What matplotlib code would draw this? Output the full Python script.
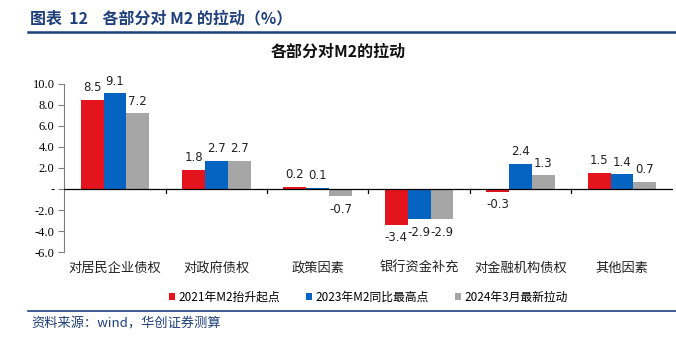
import matplotlib.pyplot as plt
import numpy as np

plt.rcParams['font.family'] = ['Noto Sans CJK SC', 'DejaVu Sans']

categories = ['对居民企业债权', '对政府债权', '政策因素', '银行资金补充', '对金融机构债权', '其他因素']
series_names = ['2021年M2抬升起点', '2023年M2同比最高点', '2024年3月最新拉动']
v2021 = [8.5, 1.8, 0.2, -3.4, -0.3, 1.5]
v2023 = [9.1, 2.7, 0.1, -2.9, 2.4, 1.4]
v2024 = [7.2, 2.7, -0.7, -2.9, 1.3, 0.7]
yticks = [10, 8, 6, 4, 2, 0, -2, -4, -6]
ytick_labels = ['10.0', '8.0', '6.0', '4.0', '2.0', '-', '-2.0', '-4.0', '-6.0']

colors = ['#E3141B', '#0563C1', '#A6A6A6']

fig = plt.figure(figsize=(6.76, 3.37), dpi=100)
ax = fig.add_axes([0.095, 0.252, 0.9, 0.499])

x = np.arange(len(categories))
w = 0.225
for i, (vals, c, name) in enumerate(zip([v2021, v2023, v2024], colors, series_names)):
    xs = x + (i - 1) * w
    ax.bar(xs, vals, width=w, color=c, label=name, zorder=2)
    for xi, v in zip(xs, vals):
        if v >= 0:
            ax.text(xi, v + 0.55, f'{v:.1f}', ha='center', va='bottom', fontsize=8.5,
                    family='DejaVu Sans', color='#222222')
        else:
            ax.text(xi, v - 0.6, f'{v:.1f}', ha='center', va='top', fontsize=8.5,
                    family='DejaVu Sans', color='#222222')

ax.set_xlim(-0.5, len(categories) - 0.5)
ax.set_ylim(-6, 10)
ax.set_yticks(yticks)
ax.set_yticklabels(ytick_labels, family='Liberation Serif', fontsize=9)

for s in ['top', 'right', 'bottom']:
    ax.spines[s].set_visible(False)
ax.spines['left'].set_color('#808080')
ax.axhline(0, color='black', lw=0.9, zorder=3)
ax.tick_params(axis='y', length=4, color='#808080', pad=3)

# category boundary ticks on the zero line
ax.set_xticks(x)
ax.set_xticklabels([])
ax.tick_params(axis='x', length=0)
for b in np.arange(0.5, len(categories) - 0.5, 1):
    ax.plot([b, b], [0, -0.4], color='black', lw=0.9, zorder=3, clip_on=False)
for xi, cat in zip(x, categories):
    ax.text(xi, -6.9, cat, ha='center', va='top', fontsize=9.5, color='#222222')

ax.legend(loc='center', bbox_to_anchor=(0.5, -0.27), ncol=3, frameon=False,
          fontsize=8.5, handlelength=0.5, handleheight=0.5, handletextpad=0.3,
          columnspacing=2.2)

fig.text(0.5, 0.845, '各部分对M2的拉动', ha='center', va='center', fontsize=11.5,
         fontweight='bold', color='#111111')
fig.text(0.044, 0.945, '图表  12    各部分对 M2 的拉动（%）', ha='left', va='center',
         fontsize=11.5, fontweight='bold', color='#1F3F7A')
fig.add_artist(plt.Line2D([0.041, 1.0], [0.905, 0.905], color='#1F3F7A', lw=1.8))
fig.add_artist(plt.Line2D([0.041, 1.0], [0.077, 0.077], color='#1F3F7A', lw=1.2))
fig.text(0.047, 0.038, '资料来源：wind，华创证券测算', ha='left', va='center',
         fontsize=9.5, style='italic', color='#1F3F7A')

fig.savefig('out.png', dpi=100)
